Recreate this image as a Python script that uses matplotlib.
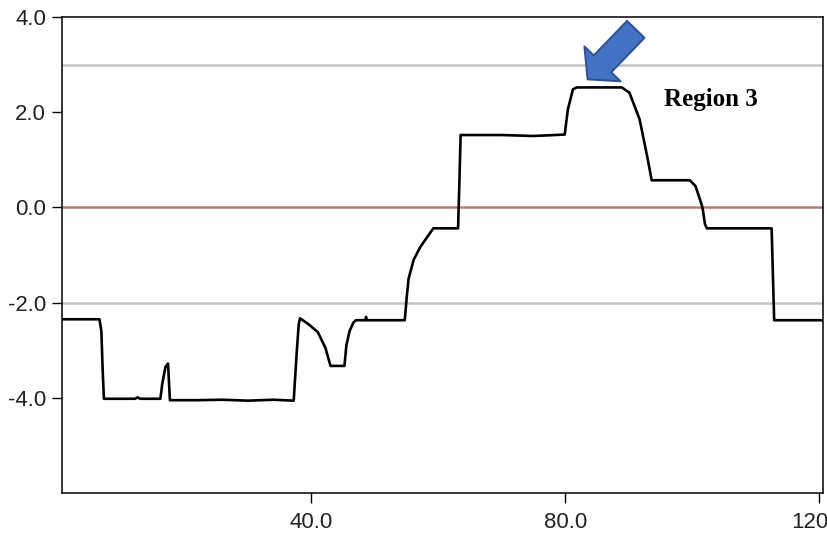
import matplotlib
matplotlib.use("Agg")
from matplotlib import pyplot as plt
from matplotlib.ticker import FormatStrFormatter

### data
x_vals = [0.7, 6.6, 6.9, 7.1, 7.3, 12.2, 12.6, 13.0, 16.2, 16.5, 17.0, 17.4, 17.7,
          22.0, 26.0, 30.0, 34.0, 37.2, 37.7, 38.0, 38.2, 39.5, 41.0, 42.2, 43.0,
          45.2, 45.5, 46.0, 46.6, 47.0, 48.5, 48.6, 48.7, 54.7, 55.0, 55.3, 56.1,
          57.2, 59.2, 63.1, 63.3, 63.5, 70.0, 75.0, 79.9, 80.4, 81.2, 81.8, 88.9,
          90.1, 91.7, 93.0, 93.6, 99.6, 100.5, 101.2, 101.6, 102.0, 102.3, 112.5,
          112.9, 120.6]
y_vals = [-2.35, -2.35, -2.6, -3.4, -4.02, -4.02, -3.99, -4.02, -4.02, -3.7, -3.35,
          -3.28, -4.05, -4.05, -4.04, -4.06, -4.04, -4.06, -3.0, -2.45, -2.33, -2.45,
          -2.62, -2.95, -3.33, -3.33, -2.9, -2.6, -2.42, -2.37, -2.37, -2.3, -2.37,
          -2.37, -1.9, -1.5, -1.1, -0.82, -0.44, -0.44, 0.5, 1.52, 1.52, 1.5, 1.53,
          2.06, 2.48, 2.52, 2.52, 2.41, 1.85, 1.0, 0.57, 0.57, 0.45, 0.17, 0.0,
          -0.35, -0.44, -0.44, -2.37, -2.37]

gray_levels = [3.0, -2.0]
center_level = 0.0
x_ticks = [40, 80, 120]
y_ticks = [4, 2, 0, -2, -4]

label_text = "Region 3"
label_pos = (102.9, 2.27)
arrow_tip = (83.5, 2.69)
arrow_tail = (91.1, 3.74)

fig = plt.figure(figsize=(8.28, 5.39), dpi=100)
ax = fig.add_axes([0.0749, 0.0853, 0.9191, 0.8832])

for lvl in gray_levels:
    ax.axhline(lvl, color='#c4c4c4', linewidth=1.8, zorder=1)
ax.axhline(center_level, color='#b87a78', linewidth=1.8, zorder=1)

ax.plot(x_vals, y_vals, color='black', linewidth=1.9, zorder=3)

ax.set_xlim(0.7, 120.6)
ax.set_ylim(-6, 4)
ax.set_xticks(x_ticks)
ax.set_yticks(y_ticks)
ax.xaxis.set_major_formatter(FormatStrFormatter('%.1f'))
ax.yaxis.set_major_formatter(FormatStrFormatter('%.1f'))
ax.tick_params(direction='out', length=7, width=1.0, labelsize=16,
               labelcolor='#222222')
ax.tick_params(axis='x', pad=6.5)
ax.tick_params(axis='y', pad=4.5)
for s in ax.spines.values():
    s.set_linewidth(1.1)

for lbl in ax.get_xticklabels() + ax.get_yticklabels():
    lbl.set_family('Liberation Sans')

ax.text(label_pos[0], label_pos[1], label_text, fontsize=18, fontweight='bold',
        family='Liberation Serif', ha='center', va='center')

ax.annotate('', xy=arrow_tip, xytext=arrow_tail,
            arrowprops=dict(arrowstyle='simple,head_length=0.62,head_width=1.45,tail_width=0.7',
                            mutation_scale=25, facecolor='#4472c4', edgecolor='#2f528f',
                            linewidth=1.4, shrinkA=0, shrinkB=0),
            annotation_clip=False)

fig.savefig('out.png', dpi=100)
